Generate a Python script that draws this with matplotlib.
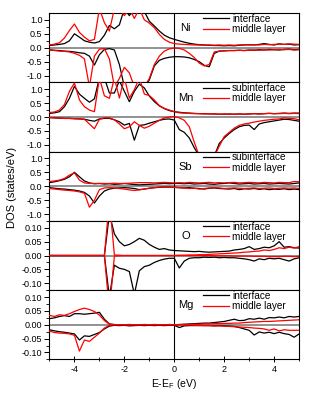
import numpy as np
import matplotlib
matplotlib.use('Agg')
import matplotlib.pyplot as plt
from matplotlib.ticker import MultipleLocator, FormatStrFormatter

plt.rcParams['font.family'] = ['Liberation Sans', 'DejaVu Sans']
plt.rcParams['axes.unicode_minus'] = False
plt.rcParams['mathtext.default'] = 'regular'

# energy grid, E - E_F (eV)
energy = np.round(np.arange(-5.0, 5.01, 0.2), 1)

# ---- Ni (interface / middle layer), spin up and spin down ----
ni_up_if = [0.08, 0.10, 0.12, 0.15, 0.25, 0.50, 0.38, 0.25, 0.20, 0.17,
            0.22, 0.45, 0.80, 0.68, 0.82, 1.40, 1.15, 1.40, 1.30, 1.30,
            0.95, 0.78, 0.60, 0.45, 0.36, 0.30, 0.25, 0.20, 0.16, 0.13,
            0.11, 0.10, 0.09, 0.08, 0.08, 0.07, 0.08, 0.07, 0.09, 0.10,
            0.11, 0.10, 0.12, 0.15, 0.12, 0.10, 0.14, 0.12, 0.13, 0.10, 0.11]
ni_up_ml = [0.10, 0.13, 0.18, 0.35, 0.62, 0.85, 0.55, 0.38, 0.25, 0.30,
            1.40, 0.90, 0.60, 1.40, 1.40, 1.15, 1.40, 1.05, 1.40, 1.00,
            0.88, 0.72, 0.48, 0.30, 0.20, 0.15, 0.13, 0.12, 0.11, 0.10,
            0.10, 0.09, 0.10, 0.09, 0.10, 0.09, 0.10, 0.09, 0.10, 0.11,
            0.10, 0.11, 0.10, 0.12, 0.11, 0.12, 0.13, 0.12, 0.14, 0.13, 0.12]
ni_dn_if = [-0.07, -0.09, -0.10, -0.12, -0.13, -0.15, -0.18, -0.20, -0.30, -0.62,
            -0.25, -0.06, -0.03, -0.08, -0.60, -1.40, -1.40, -1.40, -1.40, -1.40,
            -1.15, -0.65, -0.45, -0.38, -0.34, -0.32, -0.32, -0.33, -0.36, -0.42,
            -0.50, -0.63, -0.68, -0.20, -0.12, -0.11, -0.10, -0.10, -0.09, -0.10,
            -0.08, -0.09, -0.07, -0.08, -0.06, -0.07, -0.08, -0.06, -0.05, -0.07, -0.06]
ni_dn_ml = [-0.08, -0.10, -0.12, -0.13, -0.15, -0.20, -0.27, -0.40, -1.40, -0.30,
            -0.05, -0.03, -0.40, -1.40, -1.10, -0.70, -0.90, -1.40, -1.40, -1.40,
            -1.10, -0.60, -0.30, -0.12, -0.04, -0.01, -0.02, -0.08, -0.20, -0.35,
            -0.55, -0.65, -0.60, -0.15, -0.12, -0.11, -0.10, -0.10, -0.09, -0.10,
            -0.09, -0.08, -0.09, -0.07, -0.08, -0.07, -0.06, -0.07, -0.06, -0.08, -0.07]

# ---- Mn (subinterface / middle layer) ----
mn_up_si = [0.13, 0.15, 0.19, 0.37, 0.67, 1.10, 0.82, 0.67, 0.53, 0.65,
            1.40, 1.40, 0.86, 0.86, 1.30, 0.92, 0.55, 0.92, 1.18, 1.04,
            0.75, 0.55, 0.40, 0.30, 0.23, 0.19, 0.17, 0.15, 0.14, 0.13,
            0.12, 0.12, 0.11, 0.11, 0.10, 0.10, 0.11, 0.10, 0.11, 0.10,
            0.11, 0.12, 0.11, 0.12, 0.13, 0.12, 0.13, 0.14, 0.13, 0.14, 0.14]
mn_up_ml = [0.16, 0.18, 0.25, 0.45, 0.92, 1.22, 0.61, 0.37, 0.25, 0.19,
            1.40, 0.76, 0.67, 1.40, 0.68, 1.40, 0.68, 0.98, 1.40, 0.82,
            0.77, 0.61, 0.41, 0.31, 0.25, 0.19, 0.15, 0.14, 0.13, 0.12,
            0.12, 0.11, 0.12, 0.11, 0.10, 0.11, 0.10, 0.10, 0.11, 0.10,
            0.11, 0.12, 0.11, 0.12, 0.13, 0.12, 0.12, 0.13, 0.12, 0.13, 0.12]
mn_dn_si = [-0.02, -0.03, -0.04, -0.05, -0.05, -0.06, -0.07, -0.08, -0.12, -0.15,
            -0.07, -0.05, -0.05, -0.10, -0.17, -0.29, -0.23, -0.83, -0.30, -0.28,
            -0.22, -0.17, -0.12, -0.08, -0.07, -0.11, -0.45, -0.55, -0.75, -1.10,
            -1.40, -1.40, -1.40, -1.40, -0.95, -0.75, -0.59, -0.45, -0.35, -0.30,
            -0.29, -0.45, -0.25, -0.20, -0.17, -0.14, -0.11, -0.08, -0.09, -0.12, -0.15]
mn_dn_ml = [-0.02, -0.03, -0.04, -0.05, -0.05, -0.06, -0.06, -0.08, -0.25, -0.42,
            -0.08, -0.03, -0.03, -0.10, -0.25, -0.42, -0.35, -0.17, -0.30, -0.40,
            -0.33, -0.22, -0.12, -0.03, 0.00, 0.02, -0.03, -0.12, -0.35, -0.90,
            -1.40, -1.40, -1.40, -1.40, -1.05, -0.70, -0.55, -0.40, -0.30, -0.25,
            -0.22, -0.18, -0.15, -0.12, -0.10, -0.08, -0.07, -0.03, -0.05, -0.06, -0.10]

# ---- Sb (subinterface / middle layer) ----
sb_up_si = [0.13, 0.16, 0.20, 0.25, 0.34, 0.50, 0.34, 0.19, 0.12, 0.09,
            0.10, 0.08, 0.09, 0.07, 0.08, 0.10, 0.08, 0.06, 0.05, 0.06,
            0.07, 0.08, 0.09, 0.10, 0.09, 0.10, 0.10, 0.09, 0.10, 0.08,
            0.09, 0.10, 0.08, 0.07, 0.09, 0.10, 0.12, 0.10, 0.08, 0.09,
            0.10, 0.08, 0.09, 0.10, 0.08, 0.09, 0.10, 0.09, 0.08, 0.10, 0.12]
sb_up_ml = [0.17, 0.19, 0.22, 0.28, 0.40, 0.48, 0.22, 0.12, 0.10, 0.10,
            0.10, 0.10, 0.10, 0.11, 0.10, 0.10, 0.11, 0.12, 0.13, 0.13,
            0.13, 0.12, 0.13, 0.14, 0.13, 0.12, 0.13, 0.12, 0.14, 0.13,
            0.12, 0.13, 0.14, 0.12, 0.13, 0.12, 0.13, 0.14, 0.12, 0.13,
            0.14, 0.13, 0.12, 0.14, 0.13, 0.12, 0.14, 0.13, 0.13, 0.17, 0.16]
sb_dn_si = [-0.05, -0.07, -0.09, -0.10, -0.12, -0.14, -0.17, -0.22, -0.35, -0.60,
            -0.35, -0.17, -0.10, -0.07, -0.06, -0.05, -0.06, -0.08, -0.12, -0.10,
            -0.07, -0.05, -0.04, -0.03, -0.03, -0.04, -0.05, -0.06, -0.05, -0.07,
            -0.08, -0.10, -0.07, -0.06, -0.08, -0.09, -0.10, -0.08, -0.12, -0.09,
            -0.10, -0.08, -0.11, -0.09, -0.12, -0.10, -0.11, -0.09, -0.12, -0.10, -0.12]
sb_dn_ml = [-0.08, -0.10, -0.12, -0.14, -0.15, -0.17, -0.20, -0.25, -0.75, -0.50,
            -0.12, -0.06, -0.05, -0.06, -0.08, -0.10, -0.13, -0.15, -0.13, -0.10,
            -0.07, -0.05, -0.03, -0.03, -0.04, -0.04, -0.05, -0.06, -0.08, -0.07,
            -0.10, -0.08, -0.06, -0.05, -0.06, -0.08, -0.07, -0.06, -0.07, -0.08,
            -0.07, -0.06, -0.08, -0.07, -0.06, -0.08, -0.07, -0.06, -0.07, -0.06, -0.08]

# ---- O (interface / middle layer) ----
o_up_if = [0, 0, 0, 0, 0, 0, 0, 0, 0, 0,
           0, 0, 0.15, 0.078, 0.05, 0.035, 0.04, 0.05, 0.062, 0.055,
           0.04, 0.03, 0.022, 0.025, 0.02, 0.018, 0.017, 0.016, 0.015, 0.014,
           0.015, 0.013, 0.012, 0.013, 0.014, 0.015, 0.016, 0.02, 0.022, 0.025,
           0.032, 0.022, 0.025, 0.03, 0.028, 0.035, 0.05, 0.03, 0.032, 0.028, 0.027]
o_up_ml = [0, 0, 0, 0, 0, 0, 0, 0, 0, 0,
           0, 0, 0.20, 0.002, 0.001, 0, 0, 0, 0, 0,
           0, 0, 0, 0, 0, 0, 0.001, 0.001, 0.002, 0.002,
           0.003, 0.003, 0.004, 0.005, 0.006, 0.007, 0.008, 0.009, 0.010, 0.012,
           0.013, 0.015, 0.016, 0.020, 0.018, 0.022, 0.028, 0.025, 0.030, 0.027, 0.032]
o_dn_if = [0, 0, 0, 0, 0, 0, 0, 0, 0, 0,
           0, 0, -0.15, -0.035, -0.046, -0.05, -0.058, -0.14, -0.055, -0.04,
           -0.035, -0.025, -0.018, -0.013, -0.01, -0.01, -0.045, -0.02, -0.01, -0.008,
           -0.008, -0.006, -0.007, -0.006, -0.008, -0.007, -0.008, -0.008, -0.01, -0.012,
           -0.015, -0.02, -0.012, -0.015, -0.01, -0.012, -0.01, -0.015, -0.02, -0.012, -0.008]
o_dn_ml = [0, 0, 0, 0, 0, 0, 0, 0, 0, 0,
           0, 0, -0.20, -0.002, -0.001, 0, 0, 0, 0, 0,
           0, 0, 0, 0, 0, 0, 0, 0, 0, 0,
           0, 0, 0, -0.001, -0.001, -0.001, -0.001, -0.002, -0.002, -0.002,
           -0.002, -0.003, -0.003, -0.003, -0.004, -0.004, -0.004, -0.003, -0.003, -0.004, -0.003]

# ---- Mg (interface / middle layer) ----
mg_up_if = [0.022, 0.025, 0.030, 0.033, 0.030, 0.040, 0.040, 0.038, 0.040, 0.042,
            0.045, 0.020, 0.003, 0.001, 0.0, 0.0, 0.001, 0.0, 0.0, 0.001,
            0.0, 0.001, 0.0, 0.0, 0.001, 0.0, 0.001, 0.002, 0.003, 0.004,
            0.005, 0.006, 0.006, 0.008, 0.010, 0.012, 0.016, 0.020, 0.015, 0.016,
            0.022, 0.020, 0.024, 0.020, 0.026, 0.025, 0.028, 0.025, 0.030, 0.028, 0.030]
mg_up_ml = [0.034, 0.030, 0.036, 0.034, 0.040, 0.048, 0.055, 0.060, 0.055, 0.048,
            0.035, 0.015, 0.002, 0.0, 0.0, 0.0, 0.0, 0.0, 0.0, 0.0,
            0.0, 0.0, 0.0, 0.0, 0.0, 0.0, 0.0, 0.001, 0.001, 0.002,
            0.002, 0.003, 0.003, 0.004, 0.004, 0.005, 0.005, 0.006, 0.006, 0.008,
            0.009, 0.010, 0.011, 0.012, 0.012, 0.013, 0.014, 0.015, 0.016, 0.017, 0.018]
mg_dn_if = [-0.018, -0.022, -0.025, -0.027, -0.030, -0.033, -0.055, -0.040, -0.042, -0.035,
            -0.028, -0.015, -0.005, -0.002, -0.003, -0.002, -0.004, -0.003, -0.002, -0.003,
            -0.002, -0.003, -0.002, -0.003, -0.002, -0.002, -0.010, -0.004, -0.003, -0.003,
            -0.003, -0.003, -0.003, -0.004, -0.003, -0.004, -0.005, -0.006, -0.010, -0.015,
            -0.020, -0.037, -0.026, -0.030, -0.027, -0.032, -0.027, -0.032, -0.035, -0.045, -0.033]
mg_dn_ml = [-0.023, -0.028, -0.030, -0.031, -0.033, -0.038, -0.095, -0.055, -0.060, -0.045,
            -0.030, -0.012, -0.002, 0.0, 0.0, 0.0, 0.0, 0.0, 0.0, 0.0,
            0.0, 0.0, 0.0, 0.0, 0.0, 0.0, 0.0, -0.001, -0.001, -0.002,
            -0.002, -0.003, -0.003, -0.004, -0.004, -0.005, -0.006, -0.007, -0.008, -0.009,
            -0.010, -0.012, -0.013, -0.015, -0.020, -0.015, -0.022, -0.018, -0.020, -0.020, -0.020]

elements = ['Ni', 'Mn', 'Sb', 'O', 'Mg']
first_labels = ['interface', 'subinterface', 'subinterface', 'interface', 'interface']
second_label = 'middle layer'
panel_data = [
    (ni_up_if, ni_dn_if, ni_up_ml, ni_dn_ml),
    (mn_up_si, mn_dn_si, mn_up_ml, mn_dn_ml),
    (sb_up_si, sb_dn_si, sb_up_ml, sb_dn_ml),
    (o_up_if, o_dn_if, o_up_ml, o_dn_ml),
    (mg_up_if, mg_dn_if, mg_up_ml, mg_dn_ml),
]

fig, axes = plt.subplots(5, 1, figsize=(3.32, 3.98), dpi=100, sharex=True)
fig.subplots_adjust(left=0.149, right=0.901, top=0.967, bottom=0.097, hspace=0)

for i, ax in enumerate(axes):
    up_a, dn_a, up_b, dn_b = panel_data[i]
    small = elements[i] in ('O', 'Mg')

    ax.axhline(0, color='#7f7f7f', lw=1.2, zorder=1)
    ax.axvline(0, color='black', lw=0.8, zorder=1)

    ax.plot(energy, up_a, color='black', lw=0.9, label=first_labels[i], zorder=2)
    ax.plot(energy, dn_a, color='black', lw=0.9, zorder=2)
    ax.plot(energy, up_b, color='red', lw=0.9, label=second_label, zorder=3)
    ax.plot(energy, dn_b, color='red', lw=0.9, zorder=3)

    if small:
        ax.set_ylim(-0.125, 0.125)
        ax.yaxis.set_major_locator(MultipleLocator(0.05))
        ax.yaxis.set_minor_locator(MultipleLocator(0.025))
        ax.yaxis.set_major_formatter(FormatStrFormatter('%.2f'))
    else:
        ax.set_ylim(-1.24, 1.24)
        ax.yaxis.set_major_locator(MultipleLocator(0.5))
        ax.yaxis.set_minor_locator(MultipleLocator(0.25))
        ax.yaxis.set_major_formatter(FormatStrFormatter('%.1f'))

    ax.set_xlim(-5, 5)
    ax.tick_params(axis='y', which='major', direction='out', length=3.5, width=0.7,
                   labelsize=6.5, pad=1.5)
    ax.tick_params(axis='y', which='minor', direction='out', length=2, width=0.6)
    ax.tick_params(axis='x', which='both', bottom=False, top=False)
    for sp in ax.spines.values():
        sp.set_linewidth(0.8)

    ax.text(0.545, 0.78, elements[i], transform=ax.transAxes, fontsize=8,
            ha='center', va='center')
    ax.legend(loc='upper left', bbox_to_anchor=(0.615, 0.99), frameon=False,
              fontsize=7.2, handlelength=2.6, handletextpad=0.3,
              labelspacing=0.02, borderaxespad=0, borderpad=0)

bottom = axes[-1]
bottom.xaxis.set_major_locator(MultipleLocator(2))
bottom.xaxis.set_minor_locator(MultipleLocator(1))
bottom.tick_params(axis='x', which='major', bottom=True, direction='inout',
                   length=4.5, width=0.7, labelsize=6.5, pad=2)
bottom.tick_params(axis='x', which='minor', bottom=True, direction='inout',
                   length=2.5, width=0.6)
bottom.set_xlabel(r'E-E$_F$ (eV)', fontsize=7.5, labelpad=2)

fig.text(0.036, 0.53, 'DOS (states/eV)', rotation=90, fontsize=8,
         ha='center', va='center')

plt.savefig('out.png', dpi=100)
